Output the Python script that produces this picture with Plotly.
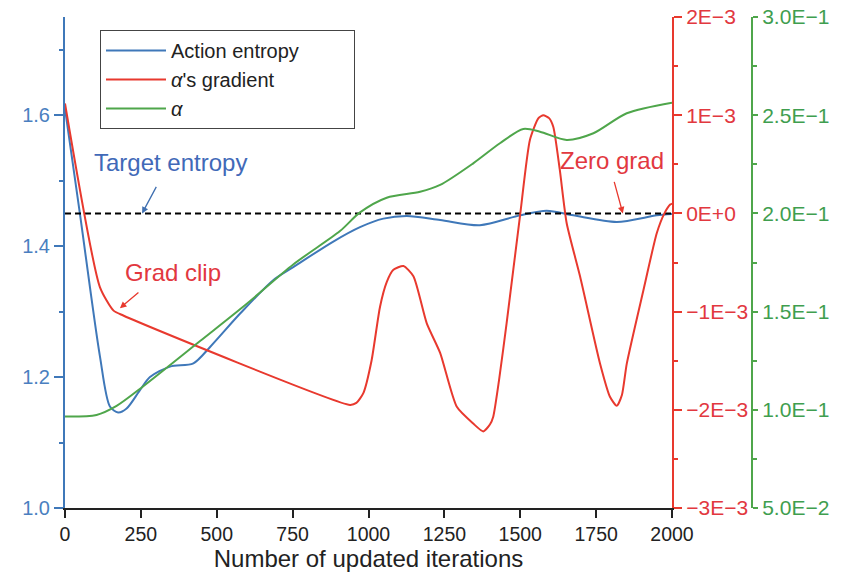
import plotly.graph_objects as go

# ---------------- data ----------------
entropy_x = [0, 49, 115, 148, 175, 203, 247, 280, 346, 423, 478, 577, 686, 752, 884, 972,
             1049, 1126, 1236, 1367, 1499, 1587, 1675, 1818, 1950, 2000]
entropy_y = [1.61, 1.45, 1.232, 1.155, 1.146, 1.152, 1.18, 1.20, 1.216, 1.221, 1.246, 1.297,
             1.348, 1.368, 1.407, 1.429, 1.442, 1.446, 1.440, 1.432, 1.447, 1.454, 1.447,
             1.437, 1.447, 1.449]

grad_x = [0, 115, 160, 192, 939, 960, 983, 1010, 1038, 1060, 1082, 1115, 1148, 1192, 1236,
          1291, 1345, 1378, 1400, 1411, 1430, 1455, 1499, 1532, 1560, 1576, 1595, 1609, 1630,
          1653, 1697, 1763, 1796, 1818, 1835, 1851, 1906, 1950, 1975, 1994, 2000]
grad_y = [1.12e-3, -0.75e-3, -0.99e-3, -1.04e-3, -1.95e-3, -1.93e-3, -1.83e-3, -1.5e-3,
          -0.95e-3, -0.70e-3, -0.575e-3, -0.535e-3, -0.64e-3, -1.12e-3, -1.42e-3, -1.97e-3,
          -2.14e-3, -2.22e-3, -2.15e-3, -2.07e-3, -1.70e-3, -1.12e-3, -0.03e-3, 0.75e-3,
          0.97e-3, 1.0e-3, 0.97e-3, 0.88e-3, 0.45e-3, -0.10e-3, -0.64e-3, -1.53e-3, -1.87e-3,
          -1.96e-3, -1.85e-3, -1.53e-3, -0.78e-3, -0.20e-3, 0.0, 0.09e-3, 0.10e-3]

alpha_x = [0, 104, 170, 258, 445, 599, 752, 906, 972, 1060, 1170, 1236, 1345, 1433, 1510,
           1565, 1653, 1741, 1851, 2000]
alpha_y = [0.0966, 0.0974, 0.102, 0.112, 0.135, 0.154, 0.174, 0.191, 0.2005, 0.208, 0.211,
           0.2145, 0.2255, 0.2357, 0.243, 0.2416, 0.2374, 0.2408, 0.251, 0.2564]

target_x = [0, 2000]
target_y = [1.45, 1.45]

x_ticks = [0, 250, 500, 750, 1000, 1250, 1500, 1750, 2000]
left_ticks = [1.0, 1.2, 1.4, 1.6]
left_labels = ["1.0", "1.2", "1.4", "1.6"]
left_minor = [1.1, 1.3, 1.5, 1.7]
red_ticks = [-3e-3, -2e-3, -1e-3, 0.0, 1e-3, 2e-3]
red_labels = ["\u22123E\u22123", "\u22122E\u22123", "\u22121E\u22123", "0E+0", "1E\u22123", "2E\u22123"]
red_minor = [-2.5e-3, -1.5e-3, -0.5e-3, 0.5e-3, 1.5e-3]
green_ticks = [0.05, 0.10, 0.15, 0.20, 0.25, 0.30]
green_labels = ["5.0E\u22122", "1.0E\u22121", "1.5E\u22121", "2.0E\u22121", "2.5E\u22121", "3.0E\u22121"]
green_minor = [0.075, 0.125, 0.175, 0.225, 0.275]

# ---------------- style ----------------
BLUE = "#3f78b9"
BLUE_T = "#4a7fc0"
RED = "#e8392e"
RED_T = "#e2383f"
GREEN = "#4fa64b"
GREEN_T = "#3f9e4f"
FONT = "Arial, Liberation Sans, sans-serif"
PAD = "\u00a0" * 9

fig = go.Figure()
fig.add_trace(go.Scatter(x=entropy_x, y=entropy_y, mode="lines", name="Action entropy" + PAD,
                         legendgroup="a",
                         line=dict(color=BLUE, width=2, shape="spline", smoothing=0.8),
                         yaxis="y"))
fig.add_trace(go.Scatter(x=grad_x, y=grad_y, mode="lines", name="<i>α</i>'s gradient",
                         legendgroup="b",
                         line=dict(color=RED, width=2, shape="spline", smoothing=0.6),
                         yaxis="y2"))
fig.add_trace(go.Scatter(x=alpha_x, y=alpha_y, mode="lines", name="<i>α</i>",
                         legendgroup="c",
                         line=dict(color=GREEN, width=2, shape="spline", smoothing=0.8),
                         yaxis="y3"))
fig.add_trace(go.Scatter(x=target_x, y=target_y, mode="lines", showlegend=False,
                         line=dict(color="black", width=2, dash="6px,4px"), yaxis="y"))

W, H = 847, 574
ml, mr, mt, mb = 65, 95, 17, 66
plot_w = W - ml - mr
plot_h = H - mt - mb

fig.update_layout(
    width=W, height=H,
    margin=dict(l=ml, r=mr, t=mt, b=mb, autoexpand=False),
    paper_bgcolor="white", plot_bgcolor="white",
    font=dict(family=FONT, size=18, color="#222"),
    showlegend=True,
    legend=dict(x=(100 - ml) / plot_w, y=(508 - 30) / plot_h, xanchor="left", yanchor="top",
                bordercolor="#444", borderwidth=1, bgcolor="white",
                itemwidth=60, tracegroupgap=0,
                font=dict(size=20, color="#222")),
    xaxis=dict(domain=[0, 607 / plot_w], range=[0, 2000], tickvals=x_ticks,
               ticks="outside", ticklen=8, tickwidth=1.5, tickcolor="#222",
               showline=True, linecolor="#222", linewidth=2, automargin=False,
               showgrid=False, zeroline=False, ticklabeloverflow="allow",
               tickfont=dict(size=19.5, color="#222"),
               title=dict(text="Number of updated iterations", font=dict(size=24, color="#222"),
                          standoff=6)),
    yaxis=dict(range=[1.0, 1.75], tickvals=left_ticks, ticktext=left_labels,
               ticks="outside", ticklen=9, tickwidth=1.5, tickcolor=BLUE,
               minor=dict(tickvals=left_minor, ticks="outside", ticklen=4, tickcolor=BLUE),
               showline=True, linecolor=BLUE, linewidth=2, automargin=False,
               showgrid=False, zeroline=False, ticklabeloverflow="allow",
               tickfont=dict(size=20, color=BLUE_T)),
    yaxis2=dict(range=[-3e-3, 2e-3], tickvals=red_ticks, ticktext=red_labels,
                overlaying="y", side="right", anchor="x",
                ticks="outside", ticklen=8, tickwidth=1.5, tickcolor=RED,
                minor=dict(tickvals=red_minor, ticks="outside", ticklen=4, tickcolor=RED),
                showline=True, linecolor=RED, linewidth=2, automargin=False,
                showgrid=False, zeroline=False, ticklabeloverflow="allow",
                tickfont=dict(size=21, color=RED_T)),
    yaxis3=dict(range=[0.05, 0.30], tickvals=green_ticks, ticktext=green_labels,
                overlaying="y", side="right", anchor="free", position=1.0,
                ticks="outside", ticklen=5, tickwidth=1.5, tickcolor=GREEN,
                minor=dict(tickvals=green_minor, ticks="outside", ticklen=4, tickcolor=GREEN),
                showline=True, linecolor=GREEN, linewidth=2, automargin=False,
                showgrid=False, zeroline=False, ticklabeloverflow="allow",
                tickfont=dict(size=21, color=GREEN_T)),
)

# annotations: texts
fig.add_annotation(x=346, y=1.528, xref="x", yref="y", text="Target entropy", showarrow=False,
                   font=dict(size=24, color="#4169b8"))
fig.add_annotation(x=356, y=1.359, xref="x", yref="y", text="Grad clip", showarrow=False,
                   font=dict(size=24, color=RED_T))
fig.add_annotation(x=1802, y=1.531, xref="x", yref="y", text="Zero grad", showarrow=False,
                   font=dict(size=24, color=RED_T))
# annotations: arrows
fig.add_annotation(x=254, y=1.45, xref="x", yref="y", text="", showarrow=True,
                   ax=15, ay=-28, arrowhead=2, arrowsize=1, arrowwidth=1.3, arrowcolor="#3f6fb0")
fig.add_annotation(x=181, y=-0.965e-3, xref="x", yref="y2", text="", showarrow=True,
                   ax=20, ay=-17, arrowhead=2, arrowsize=1, arrowwidth=1.3, arrowcolor=RED)
fig.add_annotation(x=1838, y=1.45, xref="x", yref="y", text="", showarrow=True,
                   ax=-9, ay=-33, arrowhead=2, arrowsize=1, arrowwidth=1.3, arrowcolor=RED)

# remove the default page margin so the figure fills the window exactly
fig.write_html("out.html", config={"displayModeBar": False},
               post_script="document.body.style.margin='0';document.body.style.overflow='hidden';")
